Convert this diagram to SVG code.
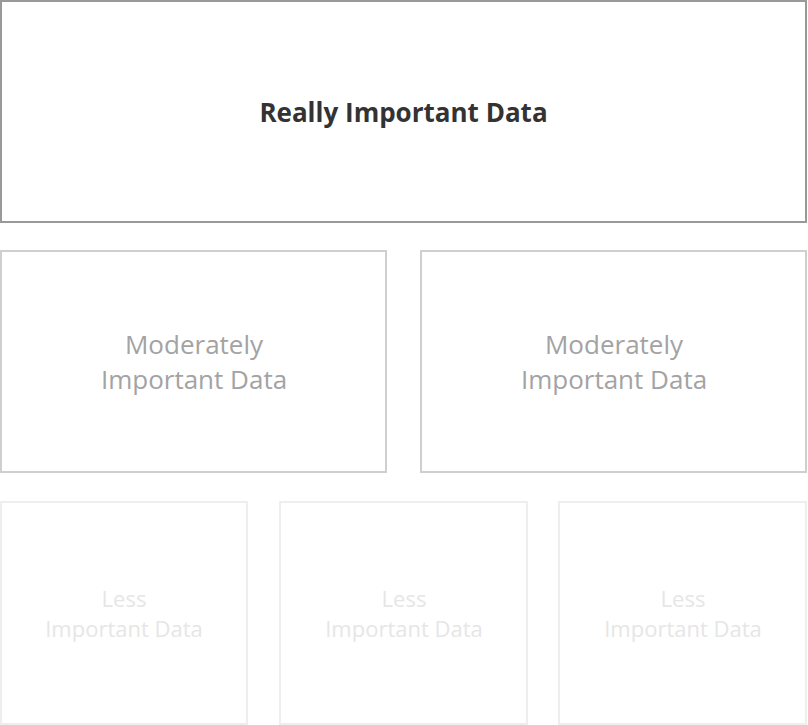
<svg xmlns="http://www.w3.org/2000/svg" width="808" height="725" viewBox="0 0 808 725">
<style>
text{font-family:"Open Sans","Noto Sans","Liberation Sans",sans-serif;text-anchor:middle}
.b1{fill:#fff;stroke:#999;stroke-width:2}
.b2{fill:#fff;stroke:#cfcfcf;stroke-width:2}
.b3{fill:#fff;stroke:#eeeeee;stroke-width:2}
.t1{font-size:26px;font-weight:700;fill:#333}
.t2{font-size:26px;fill:#a3a3a3}
.t3{font-size:22px;fill:#e6e6e6}
</style>
<rect width="808" height="725" fill="#fff"/>
<g id="really">
<rect class="b1" x="1" y="1" width="805" height="221"/>
<text class="t1" x="403.5" y="122">Really Important Data</text>
</g>
<g id="moderate1">
<rect class="b2" x="1" y="251" width="385" height="221"/>
<text class="t2" x="194" y="354">Moderately</text>
<text class="t2" x="194" y="389">Important Data</text>
</g>
<g id="moderate2">
<rect class="b2" x="421" y="251" width="385" height="221"/>
<text class="t2" x="614" y="354">Moderately</text>
<text class="t2" x="614" y="389">Important Data</text>
</g>
<g id="less1">
<rect class="b3" x="1" y="502" width="246" height="222"/>
<text class="t3" x="124" y="607">Less</text>
<text class="t3" x="124" y="637">Important Data</text>
</g>
<g id="less2">
<rect class="b3" x="280" y="502" width="247" height="222"/>
<text class="t3" x="404" y="607">Less</text>
<text class="t3" x="404" y="637">Important Data</text>
</g>
<g id="less3">
<rect class="b3" x="559" y="502" width="247" height="222"/>
<text class="t3" x="683" y="607">Less</text>
<text class="t3" x="683" y="637">Important Data</text>
</g>
<g id="connectors"/>
</svg>
